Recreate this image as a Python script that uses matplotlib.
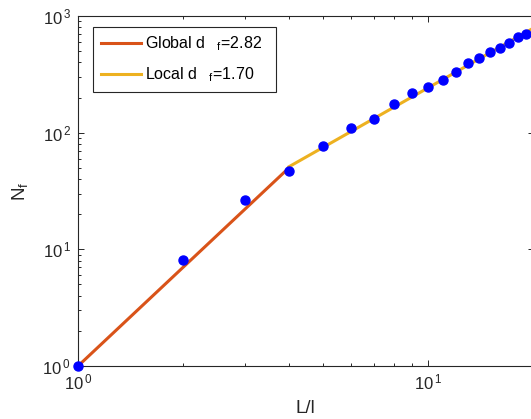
#!/usr/bin/env python3
"""Число частиц N_f в зависимости от L/l, log-log, с двумя подгонками d_f."""
import matplotlib
matplotlib.use("Agg")
import matplotlib.pyplot as plt
from matplotlib.ticker import FixedLocator, NullFormatter, LogLocator

# точки
size_ratio = [1, 2, 3, 4, 5, 6, 7, 8, 9, 10, 11, 12, 13, 14, 15, 16, 17, 18, 19]
n_f = [1.0, 8.1, 26.5, 47.2, 76.8, 110, 131, 175, 220, 247, 282, 333,
       397, 438, 494, 534, 590, 663, 700]

# концы прямых подгонки
global_x = [1, 4]
global_y = [1.0, 49.9]
local_x = [4, 20]
local_y = [51.0, 790.0]

global_label = r"Global d $\mathregular{\enspace_{f}}$=2.82"
local_label = r"Local d $\mathregular{\enspace_{f}}$=1.70"

x_ticks = [1, 10]
x_ticklabels = [r"$\mathregular{10^{\,0}}$", r"$\mathregular{10^{\,1}}$"]
y_ticks = [1, 10, 100, 1000]
y_ticklabels = [r"$\mathregular{10^{\,0}}$", r"$\mathregular{10^{\,1}}$",
                r"$\mathregular{10^{\,2}}$", r"$\mathregular{10^{\,3}}$"]

plt.rcParams["font.family"] = ["Liberation Sans", "DejaVu Sans"]
plt.rcParams["mathtext.fontset"] = "custom"
plt.rcParams["mathtext.rm"] = "Liberation Sans"

ink = "#262626"
fig = plt.figure(figsize=(5.31, 4.19), dpi=100)
ax = fig.add_axes([0.147, 0.1265, 0.858, 0.8353])

ax.plot(global_x, global_y, color="#D95319", lw=2.2, label=global_label, zorder=2)
ax.plot(local_x, local_y, color="#EDB120", lw=2.2, label=local_label, zorder=2)
ax.plot(size_ratio, n_f, "o", color="#0000FF", ms=6.5, mec="#0000FF",
        clip_on=False, zorder=3)

ax.set_xscale("log")
ax.set_yscale("log")
ax.set_xlim(1, 20)
ax.set_ylim(1, 1000)

ax.xaxis.set_major_locator(FixedLocator(x_ticks))
ax.set_xticklabels(x_ticklabels)
ax.yaxis.set_major_locator(FixedLocator(y_ticks))
ax.set_yticklabels(y_ticklabels)
ax.xaxis.set_minor_locator(LogLocator(base=10, subs=range(2, 10)))
ax.yaxis.set_minor_locator(LogLocator(base=10, subs=range(2, 10)))
ax.xaxis.set_minor_formatter(NullFormatter())
ax.yaxis.set_minor_formatter(NullFormatter())

ax.tick_params(which="both", direction="in", top=True, right=True,
               colors=ink, labelsize=12, width=0.7)
ax.tick_params(which="major", length=4.5, pad=5)
ax.tick_params(which="minor", length=2.5)
for s in ax.spines.values():
    s.set_color(ink)
    s.set_linewidth(0.8)

ax.set_xlabel("L/l", fontsize=13.5, color=ink, labelpad=5)
ax.set_ylabel(r"N$\mathregular{_f}$", fontsize=13.5, color=ink, labelpad=9)

leg = ax.legend(loc="upper left", bbox_to_anchor=(0.0318, 0.7886, 0.4018, 0.1814),
                mode="expand", fontsize=11.5, frameon=True, fancybox=False,
                edgecolor=ink, framealpha=1, handlelength=2.55,
                handletextpad=0.22, borderpad=0.5, labelspacing=0.75,
                borderaxespad=0)
leg.get_frame().set_linewidth(0.8)

fig.savefig("out.png", dpi=100)
